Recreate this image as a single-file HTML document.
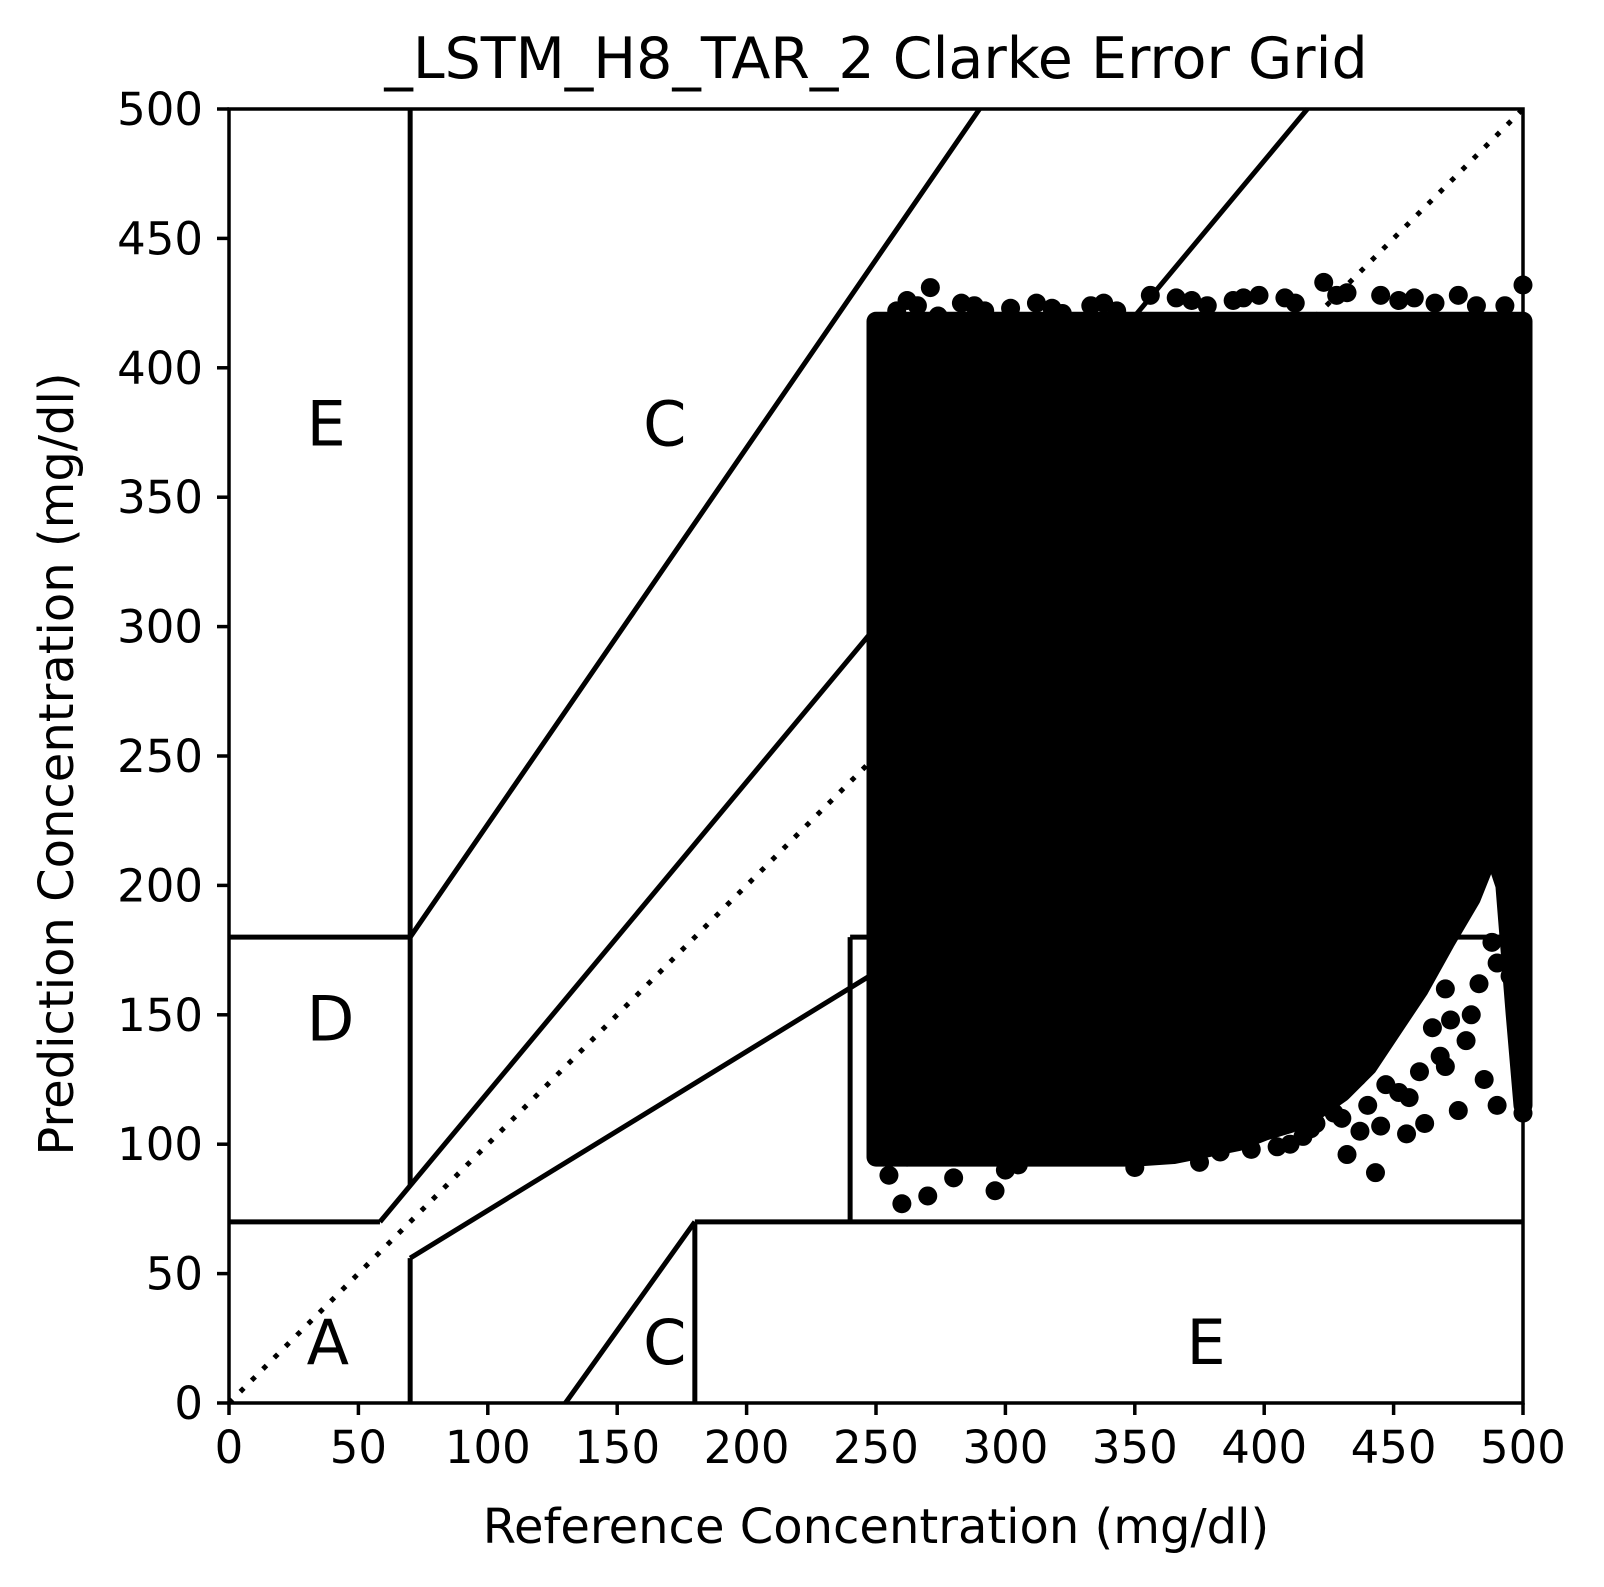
<!DOCTYPE html>
<html><head><meta charset="utf-8"><style>
html,body{margin:0;padding:0;background:#fff}
svg{display:block}
text{font-family:"DejaVu Sans","Liberation Sans",sans-serif;fill:#000}
</style></head><body>
<svg id="chart" width="1604" height="1587" viewBox="0 0 1604 1587" xmlns="http://www.w3.org/2000/svg">
<rect width="1604" height="1587" fill="#fff"/>
<text x="876" y="78" font-size="57" text-anchor="middle">_LSTM_H8_TAR_2 Clarke Error Grid</text>
<text x="876" y="1543" font-size="48" text-anchor="middle">Reference Concentration (mg/dl)</text>
<text transform="translate(73,764) rotate(-90)" font-size="48" text-anchor="middle">Prediction Concentration (mg/dl)</text>
<g id="zones"></g>
<g id="scatter"></g>
<g id="axes"></g>
</svg>
<script>
const xTicks=[0,50,100,150,200,250,300,350,400,450,500];
const yTicks=[0,50,100,150,200,250,300,350,400,450,500];
const zoneLines=[
 [[0,70],[175/3,70]],[[175/3,70],[500/1.2,500]],[[70,84],[70,500]],[[0,180],[70,180]],
 [[70,180],[290,500]],[[70,0],[70,56]],[[70,56],[500,320]],[[180,0],[180,70]],
 [[180,70],[500,70]],[[240,70],[240,180]],[[240,180],[500,180]],[[130,0],[180,70]]];
const zoneLabels=[["A",30,15],["E",370,15],["C",160,15],["E",30,370],["C",160,370],["D",30,140],["B",370,260],["B",280,370],["D",415,140]];
const denseRef=[250,500,500,497,493,488,480,470,460,450,440,430,420,410,400,390,380,365,350,250];
const densePred=[418,418,115,150,200,215,195,178,160,145,130,120,113,108,105,101,99,96,95,95];
const outRef=[443,432,455,445,490,485,475,470,460,480,470,490,495,500,500,478,465,452,440,430,425,420,395,260,270,296,300,271,423,500,475,445,305,255,280,262,350,375,383,410,415,405,437,462,468,488,497,500,483,472,456,447,436,427,418,
 258,266,274,283,292,302,312,322,333,343,356,366,378,388,398,408,432,452,466,482,493,
 262,288,318,338,372,392,412,428,458];
const outPred=[89,96,104,107,115,125,113,130,128,150,160,170,165,112,125,140,145,120,115,110,115,108,98,77,80,82,90,431,433,432,428,428,92,88,87,95,91,93,97,100,103,99,105,108,134,178,155,140,162,148,118,123,126,112,106,
 422,424,420,425,422,423,425,421,424,422,428,427,424,426,428,427,429,426,425,424,424,
 426,424,423,425,426,427,425,428,427];
const X0=229,X1=1523,Y0=1403,Y1=109;
const sx=v=>X0+(X1-X0)*v/500, sy=v=>Y0-(Y0-Y1)*v/500;
const NS="http://www.w3.org/2000/svg";
function mk(tag,attrs,parent){const e=document.createElementNS(NS,tag);for(const k in attrs)e.setAttribute(k,attrs[k]);parent.appendChild(e);return e;}
const zones=document.getElementById('zones'),scat=document.getElementById('scatter'),axes=document.getElementById('axes');
const diag=mk('line',{x1:sx(0),y1:sy(0),x2:sx(500),y2:sy(500),stroke:'#000','stroke-width':5,'stroke-dasharray':'5 11'},zones);


zoneLines.forEach(l=>{const e=mk('line',{x1:sx(l[0][0]),y1:sy(l[0][1]),x2:sx(l[1][0]),y2:sy(l[1][1]),stroke:'#000','stroke-width':5},zones);

});
zoneLabels.forEach(z=>{const t=mk('text',{x:sx(z[1]),y:sy(z[2]),'font-size':62},zones);t.textContent=z[0];

});
const pts=denseRef.map((r,i)=>sx(r)+','+sy(densePred[i])).join(' ');
const poly=mk('polygon',{points:pts,fill:'#000',stroke:'#000','stroke-width':19,'stroke-linejoin':'round'},scat);


outRef.forEach((r,i)=>{const c=mk('circle',{cx:sx(r),cy:sy(outPred[i]),r:9.5,fill:'#000'},scat);

});
const frame=mk('rect',{x:X0,y:Y1,width:X1-X0,height:Y0-Y1,fill:'none',stroke:'#000','stroke-width':3.5},axes);


xTicks.forEach(v=>{mk('line',{x1:sx(v),y1:Y0,x2:sx(v),y2:Y0+12,stroke:'#000','stroke-width':3.5},axes);
const t=mk('text',{x:sx(v),y:Y0+60,'font-size':45,'text-anchor':'middle'},axes);t.textContent=v;

});
yTicks.forEach(v=>{mk('line',{x1:X0-12,y1:sy(v),x2:X0,y2:sy(v),stroke:'#000','stroke-width':3.5},axes);
const t=mk('text',{x:X0-26,y:sy(v)+16,'font-size':45,'text-anchor':'end'},axes);t.textContent=v;

});
</script>
</body></html>
